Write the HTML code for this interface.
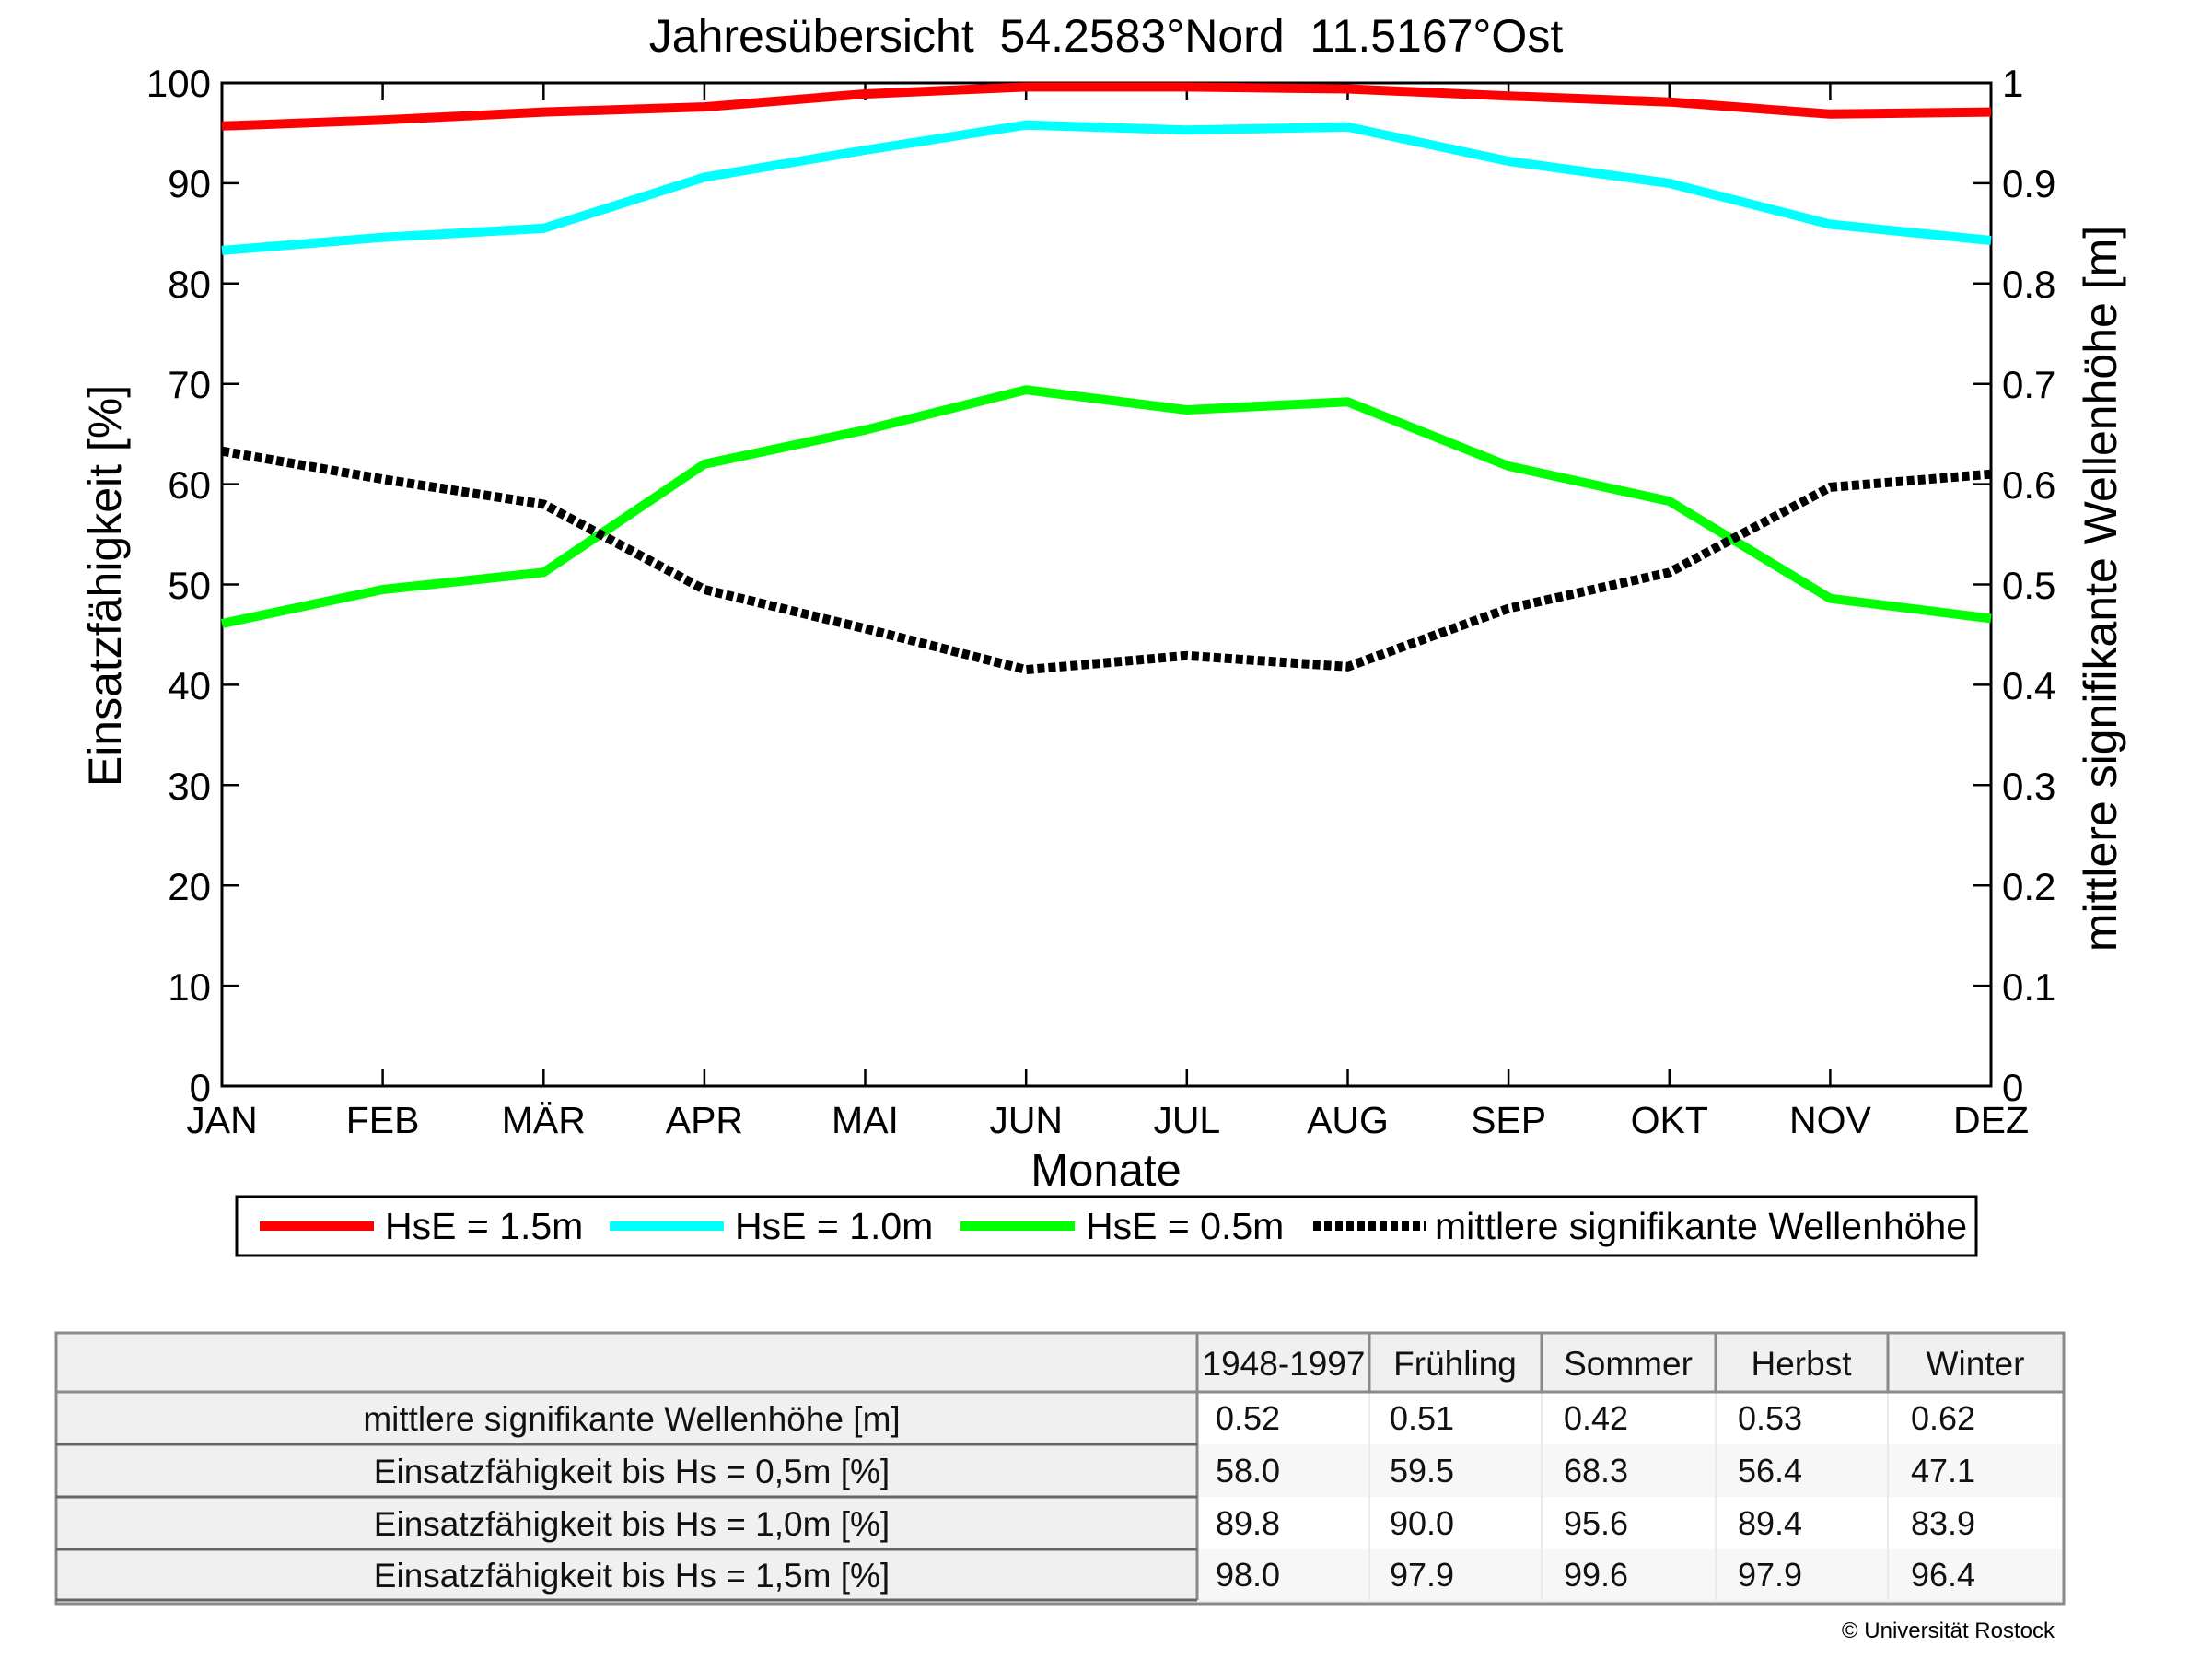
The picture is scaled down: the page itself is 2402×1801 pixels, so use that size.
<!DOCTYPE html>
<html><head><meta charset="utf-8"><style>
html,body{margin:0;padding:0;background:#fff;}
svg{display:block;}
.t{font-family:"Liberation Sans",sans-serif;fill:#000;}
.n{font-family:"Liberation Sans Narrow","Liberation Sans",sans-serif;fill:#111;}
</style></head><body>
<svg width="2402" height="1801" viewBox="0 0 2402 1801" xmlns="http://www.w3.org/2000/svg">
<rect width="2402" height="1801" fill="#fff"/>
<text class="t" x="1201" y="56" font-size="50" text-anchor="middle" xml:space="preserve">Jahresübersicht  54.2583°Nord  11.5167°Ost</text>
<rect x="241" y="90" width="1921" height="1089" fill="none" stroke="#000" stroke-width="3"/>
<g stroke="#000" stroke-width="2.5">
<path d="M241 90h19M241 198.9h19M241 307.8h19M241 416.7h19M241 525.6h19M241 634.5h19M241 743.4h19M241 852.3h19M241 961.2h19M241 1070.1h19
M2162 90h-19M2162 198.9h-19M2162 307.8h-19M2162 416.7h-19M2162 525.6h-19M2162 634.5h-19M2162 743.4h-19M2162 852.3h-19M2162 961.2h-19M2162 1070.1h-19
M415.6 90v19M590.3 90v19M764.9 90v19M939.5 90v19M1114.2 90v19M1288.8 90v19M1463.5 90v19M1638.1 90v19M1812.8 90v19M1987.4 90v19
M415.6 1179v-19M590.3 1179v-19M764.9 1179v-19M939.5 1179v-19M1114.2 1179v-19M1288.8 1179v-19M1463.5 1179v-19M1638.1 1179v-19M1812.8 1179v-19M1987.4 1179v-19"/>
</g>
<g class="t" font-size="42" text-anchor="end">
<text x="229" y="105">100</text><text x="229" y="214">90</text><text x="229" y="323">80</text><text x="229" y="432">70</text><text x="229" y="541">60</text><text x="229" y="650">50</text><text x="229" y="759">40</text><text x="229" y="868">30</text><text x="229" y="977">20</text><text x="229" y="1086">10</text><text x="229" y="1195">0</text>
</g>
<g class="t" font-size="42">
<text x="2174" y="105">1</text><text x="2174" y="214">0.9</text><text x="2174" y="323">0.8</text><text x="2174" y="432">0.7</text><text x="2174" y="541">0.6</text><text x="2174" y="650">0.5</text><text x="2174" y="759">0.4</text><text x="2174" y="868">0.3</text><text x="2174" y="977">0.2</text><text x="2174" y="1086">0.1</text><text x="2174" y="1195">0</text>
</g>
<g class="t" font-size="41" text-anchor="middle">
<text x="241" y="1230">JAN</text><text x="415.6" y="1230">FEB</text><text x="590.3" y="1230">MÄR</text><text x="764.9" y="1230">APR</text><text x="939.5" y="1230">MAI</text><text x="1114.2" y="1230">JUN</text><text x="1288.8" y="1230">JUL</text><text x="1463.5" y="1230">AUG</text><text x="1638.1" y="1230">SEP</text><text x="1812.8" y="1230">OKT</text><text x="1987.4" y="1230">NOV</text><text x="2162" y="1230">DEZ</text>
</g>
<text class="t" x="1201" y="1287" font-size="49" text-anchor="middle">Monate</text>
<text class="t" font-size="50" text-anchor="middle" transform="translate(131,636) rotate(-90)">Einsatzfähigkeit [%]</text>
<text class="t" font-size="50" text-anchor="middle" transform="translate(2298,639) rotate(-90)">mittlere signifikante Wellenhöhe [m]</text>
<g fill="none" stroke-linejoin="round">
<polyline stroke="#ff0000" stroke-width="10" points="241,136.8 415.6,130.3 590.3,121.6 764.9,116.1 939.5,102 1114.2,94.4 1288.8,94.4 1463.5,96.5 1638.1,104.2 1812.8,110.7 1987.4,123.8 2162,121.6"/>
<polyline stroke="#00ffff" stroke-width="10" points="241,271.9 415.6,257.7 590.3,247.9 764.9,192.4 939.5,163 1114.2,135.7 1288.8,141.2 1463.5,137.9 1638.1,175 1812.8,199 1987.4,243.5 2162,261"/>
<polyline stroke="#00ff00" stroke-width="10" points="241,677 415.6,640 590.3,621.4 764.9,503.8 939.5,466.8 1114.2,423.2 1288.8,445 1463.5,436.3 1638.1,506 1812.8,544.1 1987.4,649.7 2162,671.5"/>
<polyline stroke="#000" stroke-width="10" stroke-dasharray="8,4" stroke-linejoin="miter" points="241,489.7 415.6,520.2 590.3,547.4 764.9,640 939.5,682.4 1114.2,727.1 1288.8,711.8 1463.5,723.8 1638.1,660.6 1812.8,621.4 1987.4,528.9 2162,514.7"/>
</g>
<rect x="257" y="1299" width="1889" height="64" fill="#fff" stroke="#000" stroke-width="3"/>
<line x1="282" y1="1331" x2="406" y2="1331" stroke="#ff0000" stroke-width="10"/>
<text class="t" x="418" y="1345" font-size="41">HsE = 1.5m</text>
<line x1="662" y1="1331" x2="786" y2="1331" stroke="#00ffff" stroke-width="10"/>
<text class="t" x="798" y="1345" font-size="41">HsE = 1.0m</text>
<line x1="1043" y1="1331" x2="1167" y2="1331" stroke="#00ff00" stroke-width="10"/>
<text class="t" x="1179" y="1345" font-size="41">HsE = 0.5m</text>
<line x1="1426" y1="1331" x2="1548" y2="1331" stroke="#000" stroke-width="10" stroke-dasharray="8,4"/>
<text class="t" x="1558" y="1345" font-size="41">mittlere signifikante Wellenhöhe</text>
<rect x="61" y="1447" width="2180" height="294" fill="#f0f0f0"/>
<rect x="1300" y="1511" width="939" height="57" fill="#fff"/>
<rect x="1300" y="1568" width="939" height="57" fill="#f7f7f7"/>
<rect x="1300" y="1625" width="939" height="57" fill="#fff"/>
<rect x="1300" y="1682" width="939" height="55" fill="#f7f7f7"/>
<g stroke="#eaeaea" stroke-width="2">
<path d="M1487 1511v226M1674 1511v226M1863 1511v226M2050 1511v226"/>
</g>
<g stroke="#8a8a8a" stroke-width="3" fill="none">
<rect x="61" y="1447" width="2180" height="294"/>
<path d="M61 1511h2180M1300 1447v290M1487 1447v64M1674 1447v64M1863 1447v64M2050 1447v64"/>
<path d="M61 1568h1239M61 1625h1239M61 1682h1239M61 1737h1239" stroke="#666"/>
</g>
<g class="n" font-size="37" text-anchor="middle">
<text x="1394" y="1493">1948-1997</text><text x="1580" y="1493">Frühling</text><text x="1768" y="1493">Sommer</text><text x="1956" y="1493">Herbst</text><text x="2145" y="1493">Winter</text>
<text x="686" y="1553">mittlere signifikante Wellenhöhe [m]</text>
<text x="686" y="1610">Einsatzfähigkeit bis Hs = 0,5m [%]</text>
<text x="686" y="1667">Einsatzfähigkeit bis Hs = 1,0m [%]</text>
<text x="686" y="1723">Einsatzfähigkeit bis Hs = 1,5m [%]</text>
</g>
<g class="n" font-size="36">
<text x="1320" y="1552">0.52</text><text x="1509" y="1552">0.51</text><text x="1698" y="1552">0.42</text><text x="1887" y="1552">0.53</text><text x="2075" y="1552">0.62</text>
<text x="1320" y="1609">58.0</text><text x="1509" y="1609">59.5</text><text x="1698" y="1609">68.3</text><text x="1887" y="1609">56.4</text><text x="2075" y="1609">47.1</text>
<text x="1320" y="1666">89.8</text><text x="1509" y="1666">90.0</text><text x="1698" y="1666">95.6</text><text x="1887" y="1666">89.4</text><text x="2075" y="1666">83.9</text>
<text x="1320" y="1722">98.0</text><text x="1509" y="1722">97.9</text><text x="1698" y="1722">99.6</text><text x="1887" y="1722">97.9</text><text x="2075" y="1722">96.4</text>
</g>
<text class="t" x="2231" y="1778" font-size="24" text-anchor="end">© Universität Rostock</text>
</svg>
</body></html>
